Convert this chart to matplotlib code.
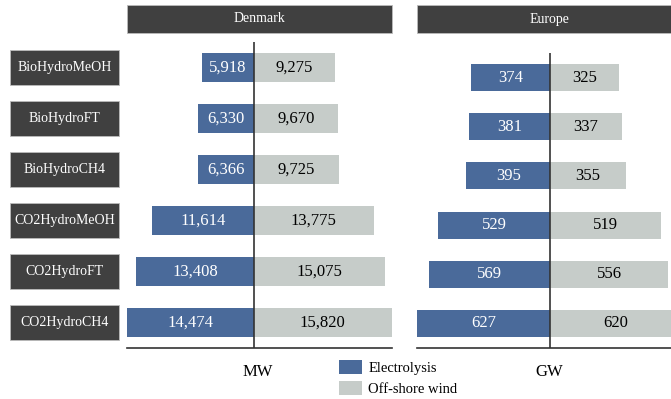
import matplotlib
matplotlib.use("Agg")
import matplotlib.pyplot as plt
from matplotlib.patches import Rectangle
from matplotlib.transforms import blended_transform_factory

plt.rcParams['font.family'] = ['Liberation Serif', 'DejaVu Serif']

categories = ["BioHydroMeOH", "BioHydroFT", "BioHydroCH4",
              "CO2HydroMeOH", "CO2HydroFT", "CO2HydroCH4"]
regions = ["Denmark", "Europe"]
units = ["MW", "GW"]
series = ["Electrolysis", "Off-shore wind"]

dk_electrolysis = [5918, 6330, 6366, 11614, 13408, 14474]
dk_offshore = [9275, 9670, 9725, 13775, 15075, 15820]
eu_electrolysis = [374, 381, 395, 529, 569, 627]
eu_offshore = [325, 337, 355, 519, 556, 620]

BLUE = "#4A6A9A"
GREY = "#C6CCC9"
DARK = "#404040"
LINE = "#333333"

W, H = 671, 399
fig = plt.figure(figsize=(W / 100, H / 100), dpi=100)


def fx(px):
    return px / W


def fy(py):
    return 1 - py / H


def panel(left, top, bottom, width, elec, wind, title, unit, unit_x):
    ax = fig.add_axes([fx(left), fy(bottom), fx(width), (bottom - top) / H])
    n = len(categories)
    ypos = list(range(n))
    ax.barh(ypos, [-v for v in elec], height=0.55, color=BLUE, zorder=1)
    ax.barh(ypos, wind, height=0.55, color=GREY, zorder=1)
    for y, e, w in zip(ypos, elec, wind):
        ax.text(-e / 2, y, f"{e:,}", ha="center", va="center",
                color="white", fontsize=12, zorder=3)
        ax.text(w / 2, y, f"{w:,}", ha="center", va="center",
                color="black", fontsize=12, zorder=3)
    ax.axvline(0, color=LINE, lw=1.2, zorder=2)
    ax.set_xlim(-max(elec), max(wind))
    ax.set_ylim(n - 0.5, -0.5)
    for s in ("top", "left", "right"):
        ax.spines[s].set_visible(False)
    ax.spines["bottom"].set_color(LINE)
    ax.spines["bottom"].set_linewidth(1.2)
    ax.set_xticks([])
    ax.set_yticks([])
    ax.patch.set_alpha(0)
    # header box
    fig.add_artist(Rectangle((fx(left), fy(33)), fx(width), 28 / H,
                             transform=fig.transFigure, facecolor=DARK,
                             edgecolor="#BBBBBB", lw=0.6))
    fig.text(fx(left + width / 2), fy(19), title, ha="center", va="center",
             color="white", fontsize=10)
    fig.text(fx(unit_x), fy(372), unit, ha="center", va="center",
             color="black", fontsize=12)
    return ax


ax_dk = panel(127, 42, 348, 265, dk_electrolysis, dk_offshore,
              regions[0], units[0], 258)
ax_eu = panel(417, 53, 348, 265, eu_electrolysis, eu_offshore,
              regions[1], units[1], 549)

# category label boxes aligned with the Denmark rows
tr = blended_transform_factory(fig.transFigure, ax_dk.transData)
box_h = 35 / 51
for i, cat in enumerate(categories):
    fig.add_artist(Rectangle((fx(10), i - box_h / 2), fx(109), box_h,
                             transform=tr, facecolor=DARK,
                             edgecolor="#BBBBBB", lw=0.6))
    fig.text(fx(64.5), i, cat, transform=tr, ha="center", va="center",
             color="white", fontsize=10)

handles = [Rectangle((0, 0), 1, 1, facecolor=BLUE),
           Rectangle((0, 0), 1, 1, facecolor=GREY)]
fig.legend(handles, series, loc="upper left",
           bbox_to_anchor=(fx(339), fy(360)), frameon=False, fontsize=10.5,
           handlelength=1.55, handleheight=1.15, handletextpad=0.45,
           labelspacing=0.4, borderpad=0, borderaxespad=0)

fig.savefig("out.png", dpi=100)
